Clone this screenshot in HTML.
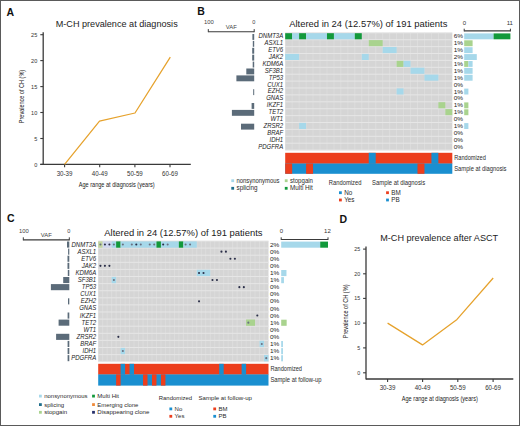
<!DOCTYPE html>
<html><head><meta charset="utf-8"><style>
html,body{margin:0;padding:0;background:#fff;}
svg{display:block;}
text{font-family:"Liberation Sans",sans-serif;}
</style></head><body>
<svg width="520" height="426" viewBox="0 0 520 426">
<rect x="0" y="0" width="520" height="426" fill="#fff"/>
<rect x="0.5" y="0.5" width="519" height="425" fill="none" stroke="#5a5a5a" stroke-width="1"/>
<text x="6.50" y="15.50" font-size="10.5" text-anchor="start" fill="#111" font-weight="bold">A</text>
<text x="55.70" y="27.00" font-size="9.1" text-anchor="start" fill="#222" textLength="122" lengthAdjust="spacingAndGlyphs">M-CH prevalence at diagnosis</text>
<line x1="43.20" y1="32.20" x2="43.20" y2="165.00" stroke="#3a3a3a" stroke-width="1.3"/>
<line x1="40.30" y1="34.70" x2="43.20" y2="34.70" stroke="#3a3a3a" stroke-width="1.1"/>
<text x="37.30" y="36.90" font-size="6.2" text-anchor="end" fill="#333" textLength="6.2" lengthAdjust="spacingAndGlyphs">25</text>
<line x1="40.30" y1="60.60" x2="43.20" y2="60.60" stroke="#3a3a3a" stroke-width="1.1"/>
<text x="37.30" y="62.80" font-size="6.2" text-anchor="end" fill="#333" textLength="6.2" lengthAdjust="spacingAndGlyphs">20</text>
<line x1="40.30" y1="86.60" x2="43.20" y2="86.60" stroke="#3a3a3a" stroke-width="1.1"/>
<text x="37.30" y="88.80" font-size="6.2" text-anchor="end" fill="#333" textLength="6.2" lengthAdjust="spacingAndGlyphs">15</text>
<line x1="40.30" y1="112.50" x2="43.20" y2="112.50" stroke="#3a3a3a" stroke-width="1.1"/>
<text x="37.30" y="114.70" font-size="6.2" text-anchor="end" fill="#333" textLength="6.2" lengthAdjust="spacingAndGlyphs">10</text>
<line x1="40.30" y1="138.50" x2="43.20" y2="138.50" stroke="#3a3a3a" stroke-width="1.1"/>
<text x="37.30" y="140.70" font-size="6.2" text-anchor="end" fill="#333" textLength="3.1" lengthAdjust="spacingAndGlyphs">5</text>
<line x1="40.30" y1="164.40" x2="43.20" y2="164.40" stroke="#3a3a3a" stroke-width="1.1"/>
<text x="37.30" y="166.60" font-size="6.2" text-anchor="end" fill="#333" textLength="3.1" lengthAdjust="spacingAndGlyphs">0</text>
<line x1="40.30" y1="164.40" x2="190.80" y2="164.40" stroke="#3a3a3a" stroke-width="1.3"/>
<line x1="64.60" y1="164.40" x2="64.60" y2="167.30" stroke="#3a3a3a" stroke-width="1.1"/>
<text x="64.60" y="175.90" font-size="6.3" text-anchor="middle" fill="#333" textLength="15.8" lengthAdjust="spacingAndGlyphs">30-39</text>
<line x1="99.70" y1="164.40" x2="99.70" y2="167.30" stroke="#3a3a3a" stroke-width="1.1"/>
<text x="99.70" y="175.90" font-size="6.3" text-anchor="middle" fill="#333" textLength="15.8" lengthAdjust="spacingAndGlyphs">40-49</text>
<line x1="134.90" y1="164.40" x2="134.90" y2="167.30" stroke="#3a3a3a" stroke-width="1.1"/>
<text x="134.90" y="175.90" font-size="6.3" text-anchor="middle" fill="#333" textLength="15.8" lengthAdjust="spacingAndGlyphs">50-59</text>
<line x1="170.00" y1="164.40" x2="170.00" y2="167.30" stroke="#3a3a3a" stroke-width="1.1"/>
<text x="170.00" y="175.90" font-size="6.3" text-anchor="middle" fill="#333" textLength="15.8" lengthAdjust="spacingAndGlyphs">60-69</text>
<polyline points="64.60,164.40 99.50,121.10 135.00,113.00 170.30,57.10" fill="none" stroke="#E6A22C" stroke-width="1.25" stroke-linejoin="round"/>
<text x="78.70" y="187.10" font-size="7.8" text-anchor="start" fill="#222" textLength="76" lengthAdjust="spacingAndGlyphs">Age range at diagnosis (years)</text>
<text transform="translate(23.90,96.50) rotate(-90)" x="0" y="0" font-size="7.8" text-anchor="middle" fill="#222" textLength="53.3" lengthAdjust="spacingAndGlyphs">Prevalence of CH (%)</text>
<text x="339.50" y="222.60" font-size="10.5" text-anchor="start" fill="#111" font-weight="bold">D</text>
<text x="380.20" y="240.50" font-size="9.1" text-anchor="start" fill="#222" textLength="118" lengthAdjust="spacingAndGlyphs">M-CH prevalence after ASCT</text>
<line x1="366.00" y1="246.50" x2="366.00" y2="379.60" stroke="#3a3a3a" stroke-width="1.3"/>
<line x1="363.10" y1="249.10" x2="366.00" y2="249.10" stroke="#3a3a3a" stroke-width="1.1"/>
<text x="360.10" y="251.19" font-size="5.9" text-anchor="end" fill="#333" textLength="5.9" lengthAdjust="spacingAndGlyphs">25</text>
<line x1="363.10" y1="273.80" x2="366.00" y2="273.80" stroke="#3a3a3a" stroke-width="1.1"/>
<text x="360.10" y="275.89" font-size="5.9" text-anchor="end" fill="#333" textLength="5.9" lengthAdjust="spacingAndGlyphs">20</text>
<line x1="363.10" y1="298.40" x2="366.00" y2="298.40" stroke="#3a3a3a" stroke-width="1.1"/>
<text x="360.10" y="300.49" font-size="5.9" text-anchor="end" fill="#333" textLength="5.9" lengthAdjust="spacingAndGlyphs">15</text>
<line x1="363.10" y1="323.10" x2="366.00" y2="323.10" stroke="#3a3a3a" stroke-width="1.1"/>
<text x="360.10" y="325.19" font-size="5.9" text-anchor="end" fill="#333" textLength="5.9" lengthAdjust="spacingAndGlyphs">10</text>
<line x1="363.10" y1="347.90" x2="366.00" y2="347.90" stroke="#3a3a3a" stroke-width="1.1"/>
<text x="360.10" y="349.99" font-size="5.9" text-anchor="end" fill="#333" textLength="2.95" lengthAdjust="spacingAndGlyphs">5</text>
<line x1="363.10" y1="372.80" x2="366.00" y2="372.80" stroke="#3a3a3a" stroke-width="1.1"/>
<text x="360.10" y="374.89" font-size="5.9" text-anchor="end" fill="#333" textLength="2.95" lengthAdjust="spacingAndGlyphs">0</text>
<line x1="366.00" y1="379.00" x2="513.30" y2="379.00" stroke="#3a3a3a" stroke-width="1.3"/>
<line x1="387.60" y1="379.00" x2="387.60" y2="381.90" stroke="#3a3a3a" stroke-width="1.1"/>
<text x="387.60" y="389.80" font-size="6.3" text-anchor="middle" fill="#333" textLength="15.8" lengthAdjust="spacingAndGlyphs">30-39</text>
<line x1="422.60" y1="379.00" x2="422.60" y2="381.90" stroke="#3a3a3a" stroke-width="1.1"/>
<text x="422.60" y="389.80" font-size="6.3" text-anchor="middle" fill="#333" textLength="15.8" lengthAdjust="spacingAndGlyphs">40-49</text>
<line x1="457.80" y1="379.00" x2="457.80" y2="381.90" stroke="#3a3a3a" stroke-width="1.1"/>
<text x="457.80" y="389.80" font-size="6.3" text-anchor="middle" fill="#333" textLength="15.8" lengthAdjust="spacingAndGlyphs">50-59</text>
<line x1="493.10" y1="379.00" x2="493.10" y2="381.90" stroke="#3a3a3a" stroke-width="1.1"/>
<text x="493.10" y="389.80" font-size="6.3" text-anchor="middle" fill="#333" textLength="15.8" lengthAdjust="spacingAndGlyphs">60-69</text>
<polyline points="387.60,323.10 422.50,344.90 457.00,319.40 493.20,278.00" fill="none" stroke="#E6A22C" stroke-width="1.25" stroke-linejoin="round"/>
<text x="401.80" y="400.90" font-size="7.8" text-anchor="start" fill="#222" textLength="76" lengthAdjust="spacingAndGlyphs">Age range at diagnosis (years)</text>
<text transform="translate(347.90,311.40) rotate(-90)" x="0" y="0" font-size="7.8" text-anchor="middle" fill="#222" textLength="53.8" lengthAdjust="spacingAndGlyphs">Prevalence of CH (%)</text>
<text x="197.30" y="15.40" font-size="10.5" text-anchor="start" fill="#111" font-weight="bold">B</text>
<text x="289.20" y="27.20" font-size="9.3" text-anchor="start" fill="#222" textLength="158.2" lengthAdjust="spacingAndGlyphs">Altered in 24 (12.57%) of 191 patients</text>
<line x1="208.30" y1="31.70" x2="254.20" y2="31.70" stroke="#3a3a3a" stroke-width="1.1"/>
<line x1="208.30" y1="29.10" x2="208.30" y2="32.20" stroke="#3a3a3a" stroke-width="1.0"/>
<line x1="254.20" y1="29.10" x2="254.20" y2="32.20" stroke="#3a3a3a" stroke-width="1.0"/>
<text x="208.90" y="24.40" font-size="5.6" text-anchor="middle" fill="#444" textLength="9.8" lengthAdjust="spacingAndGlyphs">100</text>
<text x="253.80" y="24.40" font-size="5.6" text-anchor="middle" fill="#444">0</text>
<text x="231.25" y="28.50" font-size="5.9" text-anchor="middle" fill="#444" textLength="11" lengthAdjust="spacingAndGlyphs">VAF</text>
<rect x="285.20" y="32.80" width="167.10" height="117.30" fill="#d5d5d5"/>
<line x1="292.16" y1="32.80" x2="292.16" y2="150.10" stroke="#e0e0e0" stroke-width="0.7"/>
<line x1="299.12" y1="32.80" x2="299.12" y2="150.10" stroke="#e0e0e0" stroke-width="0.7"/>
<line x1="306.09" y1="32.80" x2="306.09" y2="150.10" stroke="#e0e0e0" stroke-width="0.7"/>
<line x1="313.05" y1="32.80" x2="313.05" y2="150.10" stroke="#e0e0e0" stroke-width="0.7"/>
<line x1="320.01" y1="32.80" x2="320.01" y2="150.10" stroke="#e0e0e0" stroke-width="0.7"/>
<line x1="326.98" y1="32.80" x2="326.98" y2="150.10" stroke="#e0e0e0" stroke-width="0.7"/>
<line x1="333.94" y1="32.80" x2="333.94" y2="150.10" stroke="#e0e0e0" stroke-width="0.7"/>
<line x1="340.90" y1="32.80" x2="340.90" y2="150.10" stroke="#e0e0e0" stroke-width="0.7"/>
<line x1="347.86" y1="32.80" x2="347.86" y2="150.10" stroke="#e0e0e0" stroke-width="0.7"/>
<line x1="354.82" y1="32.80" x2="354.82" y2="150.10" stroke="#e0e0e0" stroke-width="0.7"/>
<line x1="361.79" y1="32.80" x2="361.79" y2="150.10" stroke="#e0e0e0" stroke-width="0.7"/>
<line x1="368.75" y1="32.80" x2="368.75" y2="150.10" stroke="#e0e0e0" stroke-width="0.7"/>
<line x1="375.71" y1="32.80" x2="375.71" y2="150.10" stroke="#e0e0e0" stroke-width="0.7"/>
<line x1="382.68" y1="32.80" x2="382.68" y2="150.10" stroke="#e0e0e0" stroke-width="0.7"/>
<line x1="389.64" y1="32.80" x2="389.64" y2="150.10" stroke="#e0e0e0" stroke-width="0.7"/>
<line x1="396.60" y1="32.80" x2="396.60" y2="150.10" stroke="#e0e0e0" stroke-width="0.7"/>
<line x1="403.56" y1="32.80" x2="403.56" y2="150.10" stroke="#e0e0e0" stroke-width="0.7"/>
<line x1="410.52" y1="32.80" x2="410.52" y2="150.10" stroke="#e0e0e0" stroke-width="0.7"/>
<line x1="417.49" y1="32.80" x2="417.49" y2="150.10" stroke="#e0e0e0" stroke-width="0.7"/>
<line x1="424.45" y1="32.80" x2="424.45" y2="150.10" stroke="#e0e0e0" stroke-width="0.7"/>
<line x1="431.41" y1="32.80" x2="431.41" y2="150.10" stroke="#e0e0e0" stroke-width="0.7"/>
<line x1="438.38" y1="32.80" x2="438.38" y2="150.10" stroke="#e0e0e0" stroke-width="0.7"/>
<line x1="445.34" y1="32.80" x2="445.34" y2="150.10" stroke="#e0e0e0" stroke-width="0.7"/>
<line x1="285.20" y1="32.80" x2="452.30" y2="32.80" stroke="#e6e6e6" stroke-width="1.0"/>
<line x1="285.20" y1="39.70" x2="452.30" y2="39.70" stroke="#e6e6e6" stroke-width="1.0"/>
<line x1="285.20" y1="46.60" x2="452.30" y2="46.60" stroke="#e6e6e6" stroke-width="1.0"/>
<line x1="285.20" y1="53.50" x2="452.30" y2="53.50" stroke="#e6e6e6" stroke-width="1.0"/>
<line x1="285.20" y1="60.40" x2="452.30" y2="60.40" stroke="#e6e6e6" stroke-width="1.0"/>
<line x1="285.20" y1="67.30" x2="452.30" y2="67.30" stroke="#e6e6e6" stroke-width="1.0"/>
<line x1="285.20" y1="74.20" x2="452.30" y2="74.20" stroke="#e6e6e6" stroke-width="1.0"/>
<line x1="285.20" y1="81.10" x2="452.30" y2="81.10" stroke="#e6e6e6" stroke-width="1.0"/>
<line x1="285.20" y1="88.00" x2="452.30" y2="88.00" stroke="#e6e6e6" stroke-width="1.0"/>
<line x1="285.20" y1="94.90" x2="452.30" y2="94.90" stroke="#e6e6e6" stroke-width="1.0"/>
<line x1="285.20" y1="101.80" x2="452.30" y2="101.80" stroke="#e6e6e6" stroke-width="1.0"/>
<line x1="285.20" y1="108.70" x2="452.30" y2="108.70" stroke="#e6e6e6" stroke-width="1.0"/>
<line x1="285.20" y1="115.60" x2="452.30" y2="115.60" stroke="#e6e6e6" stroke-width="1.0"/>
<line x1="285.20" y1="122.50" x2="452.30" y2="122.50" stroke="#e6e6e6" stroke-width="1.0"/>
<line x1="285.20" y1="129.40" x2="452.30" y2="129.40" stroke="#e6e6e6" stroke-width="1.0"/>
<line x1="285.20" y1="136.30" x2="452.30" y2="136.30" stroke="#e6e6e6" stroke-width="1.0"/>
<line x1="285.20" y1="143.20" x2="452.30" y2="143.20" stroke="#e6e6e6" stroke-width="1.0"/>
<line x1="285.20" y1="150.10" x2="452.30" y2="150.10" stroke="#e6e6e6" stroke-width="1.0"/>
<rect x="285.20" y="33.20" width="6.96" height="6.10" fill="#12993b"/>
<rect x="292.16" y="33.20" width="6.96" height="6.10" fill="#a6d8ea"/>
<rect x="299.12" y="33.20" width="6.96" height="6.10" fill="#12993b"/>
<rect x="306.09" y="33.20" width="20.89" height="6.10" fill="#a6d8ea"/>
<rect x="326.98" y="33.20" width="6.96" height="6.10" fill="#12993b"/>
<rect x="333.94" y="33.20" width="20.89" height="6.10" fill="#a6d8ea"/>
<rect x="354.82" y="33.20" width="6.96" height="6.10" fill="#12993b"/>
<rect x="368.75" y="40.10" width="13.93" height="6.10" fill="#a9d38e"/>
<rect x="382.68" y="47.00" width="13.93" height="6.10" fill="#a6d8ea"/>
<rect x="285.20" y="53.90" width="13.93" height="6.10" fill="#a6d8ea"/>
<rect x="361.79" y="53.90" width="6.96" height="6.10" fill="#a6d8ea"/>
<rect x="396.60" y="60.80" width="6.96" height="6.10" fill="#a9d38e"/>
<rect x="403.56" y="60.80" width="6.96" height="6.10" fill="#a6d8ea"/>
<rect x="410.52" y="67.70" width="13.93" height="6.10" fill="#a6d8ea"/>
<rect x="424.45" y="74.60" width="13.93" height="6.10" fill="#a6d8ea"/>
<rect x="396.60" y="88.40" width="6.96" height="6.10" fill="#a6d8ea"/>
<rect x="438.38" y="102.20" width="6.96" height="6.10" fill="#a9d38e"/>
<rect x="445.34" y="109.10" width="6.96" height="6.10" fill="#a9d38e"/>
<rect x="299.12" y="122.90" width="6.96" height="6.10" fill="#a6d8ea"/>
<text x="283.20" y="38.25" font-size="6.7" text-anchor="end" fill="#222" font-style="italic" textLength="24.67" lengthAdjust="spacingAndGlyphs">DNMT3A</text>
<text x="283.20" y="45.15" font-size="6.7" text-anchor="end" fill="#222" font-style="italic" textLength="18.68" lengthAdjust="spacingAndGlyphs">ASXL1</text>
<text x="283.20" y="52.05" font-size="6.7" text-anchor="end" fill="#222" font-style="italic" textLength="15.01" lengthAdjust="spacingAndGlyphs">ETV6</text>
<text x="283.20" y="58.95" font-size="6.7" text-anchor="end" fill="#222" font-style="italic" textLength="14.34" lengthAdjust="spacingAndGlyphs">JAK2</text>
<text x="283.20" y="65.85" font-size="6.7" text-anchor="end" fill="#222" font-style="italic" textLength="20.67" lengthAdjust="spacingAndGlyphs">KDM6A</text>
<text x="283.20" y="72.75" font-size="6.7" text-anchor="end" fill="#222" font-style="italic" textLength="18.34" lengthAdjust="spacingAndGlyphs">SF3B1</text>
<text x="283.20" y="79.65" font-size="6.7" text-anchor="end" fill="#222" font-style="italic" textLength="14.34" lengthAdjust="spacingAndGlyphs">TP53</text>
<text x="283.20" y="86.55" font-size="6.7" text-anchor="end" fill="#222" font-style="italic" textLength="16.0" lengthAdjust="spacingAndGlyphs">CUX1</text>
<text x="283.20" y="93.45" font-size="6.7" text-anchor="end" fill="#222" font-style="italic" textLength="15.34" lengthAdjust="spacingAndGlyphs">EZH2</text>
<text x="283.20" y="100.35" font-size="6.7" text-anchor="end" fill="#222" font-style="italic" textLength="17.0" lengthAdjust="spacingAndGlyphs">GNAS</text>
<text x="283.20" y="107.25" font-size="6.7" text-anchor="end" fill="#222" font-style="italic" textLength="16.34" lengthAdjust="spacingAndGlyphs">IKZF1</text>
<text x="283.20" y="114.15" font-size="6.7" text-anchor="end" fill="#222" font-style="italic" textLength="14.67" lengthAdjust="spacingAndGlyphs">TET2</text>
<text x="283.20" y="121.05" font-size="6.7" text-anchor="end" fill="#222" font-style="italic" textLength="12.67" lengthAdjust="spacingAndGlyphs">WT1</text>
<text x="283.20" y="127.95" font-size="6.7" text-anchor="end" fill="#222" font-style="italic" textLength="19.67" lengthAdjust="spacingAndGlyphs">ZRSR2</text>
<text x="283.20" y="134.85" font-size="6.7" text-anchor="end" fill="#222" font-style="italic" textLength="16.0" lengthAdjust="spacingAndGlyphs">BRAF</text>
<text x="283.20" y="141.75" font-size="6.7" text-anchor="end" fill="#222" font-style="italic" textLength="13.67" lengthAdjust="spacingAndGlyphs">IDH1</text>
<text x="283.20" y="148.65" font-size="6.7" text-anchor="end" fill="#222" font-style="italic" textLength="25.0" lengthAdjust="spacingAndGlyphs">PDGFRA</text>
<rect x="252.40" y="34.00" width="1.80" height="5.90" fill="#5b6b79"/>
<rect x="252.80" y="40.90" width="1.40" height="5.90" fill="#5b6b79"/>
<rect x="252.20" y="47.80" width="2.00" height="5.90" fill="#5b6b79"/>
<rect x="252.20" y="54.70" width="2.00" height="5.90" fill="#5b6b79"/>
<rect x="252.70" y="61.60" width="1.50" height="5.90" fill="#5b6b79"/>
<rect x="246.30" y="68.50" width="7.90" height="5.90" fill="#5b6b79"/>
<rect x="236.40" y="75.40" width="17.80" height="5.90" fill="#5b6b79"/>
<rect x="253.20" y="89.20" width="1.00" height="5.90" fill="#5b6b79"/>
<rect x="251.60" y="103.00" width="2.60" height="5.90" fill="#5b6b79"/>
<rect x="231.90" y="109.90" width="22.30" height="5.90" fill="#5b6b79"/>
<rect x="241.00" y="123.70" width="13.20" height="5.90" fill="#5b6b79"/>
<text x="453.70" y="38.35" font-size="6.0" text-anchor="start" fill="#222" textLength="9.3" lengthAdjust="spacingAndGlyphs">6%</text>
<text x="453.70" y="45.25" font-size="6.0" text-anchor="start" fill="#222" textLength="9.3" lengthAdjust="spacingAndGlyphs">1%</text>
<text x="453.70" y="52.15" font-size="6.0" text-anchor="start" fill="#222" textLength="9.3" lengthAdjust="spacingAndGlyphs">1%</text>
<text x="453.70" y="59.05" font-size="6.0" text-anchor="start" fill="#222" textLength="9.3" lengthAdjust="spacingAndGlyphs">2%</text>
<text x="453.70" y="65.95" font-size="6.0" text-anchor="start" fill="#222" textLength="9.3" lengthAdjust="spacingAndGlyphs">1%</text>
<text x="453.70" y="72.85" font-size="6.0" text-anchor="start" fill="#222" textLength="9.3" lengthAdjust="spacingAndGlyphs">1%</text>
<text x="453.70" y="79.75" font-size="6.0" text-anchor="start" fill="#222" textLength="9.3" lengthAdjust="spacingAndGlyphs">1%</text>
<text x="453.70" y="86.65" font-size="6.0" text-anchor="start" fill="#222" textLength="9.3" lengthAdjust="spacingAndGlyphs">0%</text>
<text x="453.70" y="93.55" font-size="6.0" text-anchor="start" fill="#222" textLength="9.3" lengthAdjust="spacingAndGlyphs">1%</text>
<text x="453.70" y="100.45" font-size="6.0" text-anchor="start" fill="#222" textLength="9.3" lengthAdjust="spacingAndGlyphs">0%</text>
<text x="453.70" y="107.35" font-size="6.0" text-anchor="start" fill="#222" textLength="9.3" lengthAdjust="spacingAndGlyphs">1%</text>
<text x="453.70" y="114.25" font-size="6.0" text-anchor="start" fill="#222" textLength="9.3" lengthAdjust="spacingAndGlyphs">1%</text>
<text x="453.70" y="121.15" font-size="6.0" text-anchor="start" fill="#222" textLength="9.3" lengthAdjust="spacingAndGlyphs">0%</text>
<text x="453.70" y="128.05" font-size="6.0" text-anchor="start" fill="#222" textLength="9.3" lengthAdjust="spacingAndGlyphs">1%</text>
<text x="453.70" y="134.95" font-size="6.0" text-anchor="start" fill="#222" textLength="9.3" lengthAdjust="spacingAndGlyphs">0%</text>
<text x="453.70" y="141.85" font-size="6.0" text-anchor="start" fill="#222" textLength="9.3" lengthAdjust="spacingAndGlyphs">0%</text>
<text x="453.70" y="148.75" font-size="6.0" text-anchor="start" fill="#222" textLength="9.3" lengthAdjust="spacingAndGlyphs">0%</text>
<line x1="464.20" y1="30.90" x2="510.40" y2="30.90" stroke="#3a3a3a" stroke-width="1.1"/>
<line x1="464.20" y1="28.70" x2="464.20" y2="31.40" stroke="#3a3a3a" stroke-width="1.0"/>
<line x1="510.40" y1="28.70" x2="510.40" y2="31.40" stroke="#3a3a3a" stroke-width="1.0"/>
<text x="464.50" y="24.50" font-size="6.0" text-anchor="middle" fill="#333">0</text>
<text x="509.80" y="24.50" font-size="6.0" text-anchor="middle" fill="#333">11</text>
<rect x="464.20" y="33.40" width="29.40" height="5.90" fill="#a6d8ea"/>
<rect x="493.60" y="33.40" width="16.80" height="5.90" fill="#12993b"/>
<rect x="464.20" y="40.30" width="8.40" height="5.90" fill="#a9d38e"/>
<rect x="464.20" y="47.20" width="8.40" height="5.90" fill="#a6d8ea"/>
<rect x="464.20" y="54.10" width="12.60" height="5.90" fill="#a6d8ea"/>
<rect x="464.20" y="61.00" width="4.20" height="5.90" fill="#a9d38e"/>
<rect x="468.40" y="61.00" width="4.20" height="5.90" fill="#a6d8ea"/>
<rect x="464.20" y="67.90" width="8.40" height="5.90" fill="#a6d8ea"/>
<rect x="464.20" y="74.80" width="8.40" height="5.90" fill="#a6d8ea"/>
<rect x="464.20" y="88.60" width="4.20" height="5.90" fill="#a6d8ea"/>
<rect x="464.20" y="102.40" width="4.20" height="5.90" fill="#a9d38e"/>
<rect x="464.20" y="109.30" width="4.20" height="5.90" fill="#a9d38e"/>
<rect x="464.20" y="123.10" width="4.20" height="5.90" fill="#a6d8ea"/>
<rect x="285.20" y="152.80" width="167.10" height="11.00" fill="#ec3e1d"/>
<rect x="368.75" y="152.80" width="6.96" height="11.00" fill="#1a8fd0"/>
<rect x="431.41" y="152.80" width="6.96" height="11.00" fill="#1a8fd0"/>
<rect x="285.20" y="163.50" width="167.10" height="10.30" fill="#1a8fd0"/>
<rect x="285.20" y="163.50" width="6.96" height="10.30" fill="#ec3e1d"/>
<rect x="306.09" y="163.50" width="6.96" height="10.30" fill="#ec3e1d"/>
<rect x="417.49" y="163.50" width="6.96" height="10.30" fill="#ec3e1d"/>
<text x="454.20" y="160.25" font-size="6.3" text-anchor="start" fill="#2a2a2a" textLength="31.6" lengthAdjust="spacingAndGlyphs">Randomized</text>
<text x="454.20" y="170.75" font-size="6.3" text-anchor="start" fill="#2a2a2a" textLength="52.3" lengthAdjust="spacingAndGlyphs">Sample at diagnosis</text>
<text x="6.90" y="222.40" font-size="10.5" text-anchor="start" fill="#111" font-weight="bold">C</text>
<text x="104.30" y="235.70" font-size="9.3" text-anchor="start" fill="#222" textLength="158.2" lengthAdjust="spacingAndGlyphs">Altered in 24 (12.57%) of 191 patients</text>
<line x1="23.30" y1="239.90" x2="69.30" y2="239.90" stroke="#3a3a3a" stroke-width="1.1"/>
<line x1="23.30" y1="237.30" x2="23.30" y2="240.40" stroke="#3a3a3a" stroke-width="1.0"/>
<line x1="69.30" y1="237.30" x2="69.30" y2="240.40" stroke="#3a3a3a" stroke-width="1.0"/>
<text x="23.90" y="232.60" font-size="5.6" text-anchor="middle" fill="#444" textLength="9.8" lengthAdjust="spacingAndGlyphs">100</text>
<text x="68.90" y="232.60" font-size="5.6" text-anchor="middle" fill="#444">0</text>
<text x="46.30" y="236.70" font-size="5.9" text-anchor="middle" fill="#444" textLength="11" lengthAdjust="spacingAndGlyphs">VAF</text>
<rect x="98.20" y="241.00" width="170.30" height="120.70" fill="#d5d5d5"/>
<line x1="102.68" y1="241.00" x2="102.68" y2="361.70" stroke="#e0e0e0" stroke-width="0.7"/>
<line x1="107.16" y1="241.00" x2="107.16" y2="361.70" stroke="#e0e0e0" stroke-width="0.7"/>
<line x1="111.64" y1="241.00" x2="111.64" y2="361.70" stroke="#e0e0e0" stroke-width="0.7"/>
<line x1="116.13" y1="241.00" x2="116.13" y2="361.70" stroke="#e0e0e0" stroke-width="0.7"/>
<line x1="120.61" y1="241.00" x2="120.61" y2="361.70" stroke="#e0e0e0" stroke-width="0.7"/>
<line x1="125.09" y1="241.00" x2="125.09" y2="361.70" stroke="#e0e0e0" stroke-width="0.7"/>
<line x1="129.57" y1="241.00" x2="129.57" y2="361.70" stroke="#e0e0e0" stroke-width="0.7"/>
<line x1="134.05" y1="241.00" x2="134.05" y2="361.70" stroke="#e0e0e0" stroke-width="0.7"/>
<line x1="138.53" y1="241.00" x2="138.53" y2="361.70" stroke="#e0e0e0" stroke-width="0.7"/>
<line x1="143.02" y1="241.00" x2="143.02" y2="361.70" stroke="#e0e0e0" stroke-width="0.7"/>
<line x1="147.50" y1="241.00" x2="147.50" y2="361.70" stroke="#e0e0e0" stroke-width="0.7"/>
<line x1="151.98" y1="241.00" x2="151.98" y2="361.70" stroke="#e0e0e0" stroke-width="0.7"/>
<line x1="156.46" y1="241.00" x2="156.46" y2="361.70" stroke="#e0e0e0" stroke-width="0.7"/>
<line x1="160.94" y1="241.00" x2="160.94" y2="361.70" stroke="#e0e0e0" stroke-width="0.7"/>
<line x1="165.42" y1="241.00" x2="165.42" y2="361.70" stroke="#e0e0e0" stroke-width="0.7"/>
<line x1="169.91" y1="241.00" x2="169.91" y2="361.70" stroke="#e0e0e0" stroke-width="0.7"/>
<line x1="174.39" y1="241.00" x2="174.39" y2="361.70" stroke="#e0e0e0" stroke-width="0.7"/>
<line x1="178.87" y1="241.00" x2="178.87" y2="361.70" stroke="#e0e0e0" stroke-width="0.7"/>
<line x1="183.35" y1="241.00" x2="183.35" y2="361.70" stroke="#e0e0e0" stroke-width="0.7"/>
<line x1="187.83" y1="241.00" x2="187.83" y2="361.70" stroke="#e0e0e0" stroke-width="0.7"/>
<line x1="192.31" y1="241.00" x2="192.31" y2="361.70" stroke="#e0e0e0" stroke-width="0.7"/>
<line x1="196.79" y1="241.00" x2="196.79" y2="361.70" stroke="#e0e0e0" stroke-width="0.7"/>
<line x1="201.28" y1="241.00" x2="201.28" y2="361.70" stroke="#e0e0e0" stroke-width="0.7"/>
<line x1="205.76" y1="241.00" x2="205.76" y2="361.70" stroke="#e0e0e0" stroke-width="0.7"/>
<line x1="210.24" y1="241.00" x2="210.24" y2="361.70" stroke="#e0e0e0" stroke-width="0.7"/>
<line x1="214.72" y1="241.00" x2="214.72" y2="361.70" stroke="#e0e0e0" stroke-width="0.7"/>
<line x1="219.20" y1="241.00" x2="219.20" y2="361.70" stroke="#e0e0e0" stroke-width="0.7"/>
<line x1="223.68" y1="241.00" x2="223.68" y2="361.70" stroke="#e0e0e0" stroke-width="0.7"/>
<line x1="228.17" y1="241.00" x2="228.17" y2="361.70" stroke="#e0e0e0" stroke-width="0.7"/>
<line x1="232.65" y1="241.00" x2="232.65" y2="361.70" stroke="#e0e0e0" stroke-width="0.7"/>
<line x1="237.13" y1="241.00" x2="237.13" y2="361.70" stroke="#e0e0e0" stroke-width="0.7"/>
<line x1="241.61" y1="241.00" x2="241.61" y2="361.70" stroke="#e0e0e0" stroke-width="0.7"/>
<line x1="246.09" y1="241.00" x2="246.09" y2="361.70" stroke="#e0e0e0" stroke-width="0.7"/>
<line x1="250.57" y1="241.00" x2="250.57" y2="361.70" stroke="#e0e0e0" stroke-width="0.7"/>
<line x1="255.06" y1="241.00" x2="255.06" y2="361.70" stroke="#e0e0e0" stroke-width="0.7"/>
<line x1="259.54" y1="241.00" x2="259.54" y2="361.70" stroke="#e0e0e0" stroke-width="0.7"/>
<line x1="264.02" y1="241.00" x2="264.02" y2="361.70" stroke="#e0e0e0" stroke-width="0.7"/>
<line x1="98.20" y1="241.00" x2="268.50" y2="241.00" stroke="#e6e6e6" stroke-width="1.0"/>
<line x1="98.20" y1="248.10" x2="268.50" y2="248.10" stroke="#e6e6e6" stroke-width="1.0"/>
<line x1="98.20" y1="255.20" x2="268.50" y2="255.20" stroke="#e6e6e6" stroke-width="1.0"/>
<line x1="98.20" y1="262.30" x2="268.50" y2="262.30" stroke="#e6e6e6" stroke-width="1.0"/>
<line x1="98.20" y1="269.40" x2="268.50" y2="269.40" stroke="#e6e6e6" stroke-width="1.0"/>
<line x1="98.20" y1="276.50" x2="268.50" y2="276.50" stroke="#e6e6e6" stroke-width="1.0"/>
<line x1="98.20" y1="283.60" x2="268.50" y2="283.60" stroke="#e6e6e6" stroke-width="1.0"/>
<line x1="98.20" y1="290.70" x2="268.50" y2="290.70" stroke="#e6e6e6" stroke-width="1.0"/>
<line x1="98.20" y1="297.80" x2="268.50" y2="297.80" stroke="#e6e6e6" stroke-width="1.0"/>
<line x1="98.20" y1="304.90" x2="268.50" y2="304.90" stroke="#e6e6e6" stroke-width="1.0"/>
<line x1="98.20" y1="312.00" x2="268.50" y2="312.00" stroke="#e6e6e6" stroke-width="1.0"/>
<line x1="98.20" y1="319.10" x2="268.50" y2="319.10" stroke="#e6e6e6" stroke-width="1.0"/>
<line x1="98.20" y1="326.20" x2="268.50" y2="326.20" stroke="#e6e6e6" stroke-width="1.0"/>
<line x1="98.20" y1="333.30" x2="268.50" y2="333.30" stroke="#e6e6e6" stroke-width="1.0"/>
<line x1="98.20" y1="340.40" x2="268.50" y2="340.40" stroke="#e6e6e6" stroke-width="1.0"/>
<line x1="98.20" y1="347.50" x2="268.50" y2="347.50" stroke="#e6e6e6" stroke-width="1.0"/>
<line x1="98.20" y1="354.60" x2="268.50" y2="354.60" stroke="#e6e6e6" stroke-width="1.0"/>
<line x1="98.20" y1="361.70" x2="268.50" y2="361.70" stroke="#e6e6e6" stroke-width="1.0"/>
<rect x="98.20" y="241.40" width="4.48" height="6.30" fill="#c3d69e"/>
<rect x="102.68" y="241.40" width="8.96" height="6.30" fill="#cfd6ee"/>
<rect x="111.64" y="241.40" width="4.48" height="6.30" fill="#a6d8ea"/>
<rect x="116.13" y="241.40" width="4.48" height="6.30" fill="#12993b"/>
<rect x="120.61" y="241.40" width="35.85" height="6.30" fill="#a6d8ea"/>
<rect x="156.46" y="241.40" width="4.48" height="6.30" fill="#12993b"/>
<rect x="160.94" y="241.40" width="17.93" height="6.30" fill="#a6d8ea"/>
<rect x="178.87" y="241.40" width="4.48" height="6.30" fill="#12993b"/>
<rect x="183.35" y="241.40" width="13.44" height="6.30" fill="#a6d8ea"/>
<rect x="196.79" y="269.80" width="13.44" height="6.30" fill="#a6d8ea"/>
<rect x="111.64" y="276.90" width="4.48" height="6.30" fill="#a6d8ea"/>
<rect x="246.09" y="319.50" width="8.96" height="6.30" fill="#a9d38e"/>
<rect x="259.54" y="340.80" width="4.48" height="6.30" fill="#a6d8ea"/>
<rect x="120.61" y="347.90" width="4.48" height="6.30" fill="#a6d8ea"/>
<rect x="264.02" y="355.00" width="4.48" height="6.30" fill="#a6d8ea"/>
<circle cx="104.92" cy="244.55" r="1.05" fill="#2a2e48"/>
<circle cx="109.40" cy="244.55" r="1.05" fill="#2a2e48"/>
<circle cx="136.29" cy="244.55" r="1.05" fill="#2a2e48"/>
<circle cx="163.18" cy="244.55" r="1.05" fill="#2a2e48"/>
<circle cx="100.44" cy="244.55" r="1.05" fill="#6b7080"/>
<circle cx="113.89" cy="244.55" r="1.05" fill="#6b7080"/>
<circle cx="122.85" cy="244.55" r="1.05" fill="#6b7080"/>
<circle cx="131.81" cy="244.55" r="1.05" fill="#6b7080"/>
<circle cx="140.78" cy="244.55" r="1.05" fill="#6b7080"/>
<circle cx="149.74" cy="244.55" r="1.05" fill="#6b7080"/>
<circle cx="154.22" cy="244.55" r="1.05" fill="#6b7080"/>
<circle cx="167.66" cy="244.55" r="1.05" fill="#6b7080"/>
<circle cx="185.59" cy="244.55" r="1.05" fill="#6b7080"/>
<circle cx="190.07" cy="244.55" r="1.05" fill="#6b7080"/>
<circle cx="221.44" cy="251.65" r="1.05" fill="#2a2e48"/>
<circle cx="225.93" cy="251.65" r="1.05" fill="#2a2e48"/>
<circle cx="230.41" cy="258.75" r="1.05" fill="#2a2e48"/>
<circle cx="234.89" cy="258.75" r="1.05" fill="#2a2e48"/>
<circle cx="100.44" cy="265.85" r="1.05" fill="#2a2e48"/>
<circle cx="104.92" cy="265.85" r="1.05" fill="#2a2e48"/>
<circle cx="109.40" cy="265.85" r="1.05" fill="#2a2e48"/>
<circle cx="199.04" cy="272.95" r="1.05" fill="#2a2e48"/>
<circle cx="203.52" cy="272.95" r="1.05" fill="#2a2e48"/>
<circle cx="113.89" cy="280.05" r="1.05" fill="#6b7080"/>
<circle cx="212.48" cy="280.05" r="1.05" fill="#2a2e48"/>
<circle cx="216.96" cy="280.05" r="1.05" fill="#2a2e48"/>
<circle cx="239.37" cy="287.15" r="1.05" fill="#2a2e48"/>
<circle cx="243.85" cy="287.15" r="1.05" fill="#2a2e48"/>
<circle cx="199.04" cy="301.35" r="1.05" fill="#2a2e48"/>
<circle cx="257.30" cy="315.55" r="1.05" fill="#2a2e48"/>
<circle cx="248.33" cy="322.65" r="1.05" fill="#6b7080"/>
<circle cx="118.37" cy="336.85" r="1.05" fill="#2a2e48"/>
<circle cx="261.78" cy="343.95" r="1.05" fill="#6b7080"/>
<circle cx="122.85" cy="351.05" r="1.05" fill="#6b7080"/>
<circle cx="266.26" cy="358.15" r="1.05" fill="#6b7080"/>
<text x="96.20" y="246.55" font-size="6.7" text-anchor="end" fill="#222" font-style="italic" textLength="24.67" lengthAdjust="spacingAndGlyphs">DNMT3A</text>
<text x="96.20" y="253.65" font-size="6.7" text-anchor="end" fill="#222" font-style="italic" textLength="18.68" lengthAdjust="spacingAndGlyphs">ASXL1</text>
<text x="96.20" y="260.75" font-size="6.7" text-anchor="end" fill="#222" font-style="italic" textLength="15.01" lengthAdjust="spacingAndGlyphs">ETV6</text>
<text x="96.20" y="267.85" font-size="6.7" text-anchor="end" fill="#222" font-style="italic" textLength="14.34" lengthAdjust="spacingAndGlyphs">JAK2</text>
<text x="96.20" y="274.95" font-size="6.7" text-anchor="end" fill="#222" font-style="italic" textLength="20.67" lengthAdjust="spacingAndGlyphs">KDM6A</text>
<text x="96.20" y="282.05" font-size="6.7" text-anchor="end" fill="#222" font-style="italic" textLength="18.34" lengthAdjust="spacingAndGlyphs">SF3B1</text>
<text x="96.20" y="289.15" font-size="6.7" text-anchor="end" fill="#222" font-style="italic" textLength="14.34" lengthAdjust="spacingAndGlyphs">TP53</text>
<text x="96.20" y="296.25" font-size="6.7" text-anchor="end" fill="#222" font-style="italic" textLength="16.0" lengthAdjust="spacingAndGlyphs">CUX1</text>
<text x="96.20" y="303.35" font-size="6.7" text-anchor="end" fill="#222" font-style="italic" textLength="15.34" lengthAdjust="spacingAndGlyphs">EZH2</text>
<text x="96.20" y="310.45" font-size="6.7" text-anchor="end" fill="#222" font-style="italic" textLength="17.0" lengthAdjust="spacingAndGlyphs">GNAS</text>
<text x="96.20" y="317.55" font-size="6.7" text-anchor="end" fill="#222" font-style="italic" textLength="16.34" lengthAdjust="spacingAndGlyphs">IKZF1</text>
<text x="96.20" y="324.65" font-size="6.7" text-anchor="end" fill="#222" font-style="italic" textLength="14.67" lengthAdjust="spacingAndGlyphs">TET2</text>
<text x="96.20" y="331.75" font-size="6.7" text-anchor="end" fill="#222" font-style="italic" textLength="12.67" lengthAdjust="spacingAndGlyphs">WT1</text>
<text x="96.20" y="338.85" font-size="6.7" text-anchor="end" fill="#222" font-style="italic" textLength="19.67" lengthAdjust="spacingAndGlyphs">ZRSR2</text>
<text x="96.20" y="345.95" font-size="6.7" text-anchor="end" fill="#222" font-style="italic" textLength="16.0" lengthAdjust="spacingAndGlyphs">BRAF</text>
<text x="96.20" y="353.05" font-size="6.7" text-anchor="end" fill="#222" font-style="italic" textLength="13.67" lengthAdjust="spacingAndGlyphs">IDH1</text>
<text x="96.20" y="360.15" font-size="6.7" text-anchor="end" fill="#222" font-style="italic" textLength="25.0" lengthAdjust="spacingAndGlyphs">PDGFRA</text>
<rect x="67.00" y="241.50" width="2.30" height="6.10" fill="#5b6b79"/>
<rect x="68.10" y="248.60" width="1.20" height="6.10" fill="#5b6b79"/>
<rect x="67.50" y="255.70" width="1.80" height="6.10" fill="#5b6b79"/>
<rect x="67.50" y="262.80" width="1.80" height="6.10" fill="#5b6b79"/>
<rect x="67.80" y="269.90" width="1.50" height="6.10" fill="#5b6b79"/>
<rect x="63.20" y="277.00" width="6.10" height="6.10" fill="#5b6b79"/>
<rect x="50.90" y="284.10" width="18.40" height="6.10" fill="#5b6b79"/>
<rect x="68.00" y="298.30" width="1.30" height="6.10" fill="#5b6b79"/>
<rect x="67.60" y="312.50" width="1.70" height="6.10" fill="#5b6b79"/>
<rect x="58.60" y="319.60" width="10.70" height="6.10" fill="#5b6b79"/>
<rect x="56.10" y="333.80" width="13.20" height="6.10" fill="#5b6b79"/>
<rect x="67.60" y="340.90" width="1.70" height="6.10" fill="#5b6b79"/>
<rect x="67.60" y="348.00" width="1.70" height="6.10" fill="#5b6b79"/>
<rect x="67.60" y="355.10" width="1.70" height="6.10" fill="#5b6b79"/>
<text x="269.90" y="246.65" font-size="6.0" text-anchor="start" fill="#222" textLength="9.3" lengthAdjust="spacingAndGlyphs">2%</text>
<text x="269.90" y="253.75" font-size="6.0" text-anchor="start" fill="#222" textLength="9.3" lengthAdjust="spacingAndGlyphs">0%</text>
<text x="269.90" y="260.85" font-size="6.0" text-anchor="start" fill="#222" textLength="9.3" lengthAdjust="spacingAndGlyphs">0%</text>
<text x="269.90" y="267.95" font-size="6.0" text-anchor="start" fill="#222" textLength="9.3" lengthAdjust="spacingAndGlyphs">0%</text>
<text x="269.90" y="275.05" font-size="6.0" text-anchor="start" fill="#222" textLength="9.3" lengthAdjust="spacingAndGlyphs">1%</text>
<text x="269.90" y="282.15" font-size="6.0" text-anchor="start" fill="#222" textLength="9.3" lengthAdjust="spacingAndGlyphs">1%</text>
<text x="269.90" y="289.25" font-size="6.0" text-anchor="start" fill="#222" textLength="9.3" lengthAdjust="spacingAndGlyphs">0%</text>
<text x="269.90" y="296.35" font-size="6.0" text-anchor="start" fill="#222" textLength="9.3" lengthAdjust="spacingAndGlyphs">0%</text>
<text x="269.90" y="303.45" font-size="6.0" text-anchor="start" fill="#222" textLength="9.3" lengthAdjust="spacingAndGlyphs">0%</text>
<text x="269.90" y="310.55" font-size="6.0" text-anchor="start" fill="#222" textLength="9.3" lengthAdjust="spacingAndGlyphs">0%</text>
<text x="269.90" y="317.65" font-size="6.0" text-anchor="start" fill="#222" textLength="9.3" lengthAdjust="spacingAndGlyphs">0%</text>
<text x="269.90" y="324.75" font-size="6.0" text-anchor="start" fill="#222" textLength="9.3" lengthAdjust="spacingAndGlyphs">1%</text>
<text x="269.90" y="331.85" font-size="6.0" text-anchor="start" fill="#222" textLength="9.3" lengthAdjust="spacingAndGlyphs">0%</text>
<text x="269.90" y="338.95" font-size="6.0" text-anchor="start" fill="#222" textLength="9.3" lengthAdjust="spacingAndGlyphs">0%</text>
<text x="269.90" y="346.05" font-size="6.0" text-anchor="start" fill="#222" textLength="9.3" lengthAdjust="spacingAndGlyphs">1%</text>
<text x="269.90" y="353.15" font-size="6.0" text-anchor="start" fill="#222" textLength="9.3" lengthAdjust="spacingAndGlyphs">1%</text>
<text x="269.90" y="360.25" font-size="6.0" text-anchor="start" fill="#222" textLength="9.3" lengthAdjust="spacingAndGlyphs">1%</text>
<line x1="281.20" y1="239.50" x2="328.00" y2="239.50" stroke="#3a3a3a" stroke-width="1.1"/>
<line x1="281.20" y1="237.30" x2="281.20" y2="240.00" stroke="#3a3a3a" stroke-width="1.0"/>
<line x1="328.00" y1="237.30" x2="328.00" y2="240.00" stroke="#3a3a3a" stroke-width="1.0"/>
<text x="281.50" y="233.10" font-size="6.0" text-anchor="middle" fill="#333">0</text>
<text x="327.40" y="233.10" font-size="6.0" text-anchor="middle" fill="#333">12</text>
<rect x="281.20" y="241.60" width="39.00" height="6.10" fill="#a6d8ea"/>
<rect x="320.20" y="241.60" width="7.80" height="6.10" fill="#12993b"/>
<rect x="281.20" y="270.00" width="5.27" height="6.10" fill="#a6d8ea"/>
<rect x="281.20" y="277.10" width="2.73" height="6.10" fill="#a6d8ea"/>
<rect x="281.20" y="319.70" width="5.46" height="6.10" fill="#a9d38e"/>
<rect x="281.20" y="341.00" width="1.75" height="6.10" fill="#a6d8ea"/>
<rect x="281.20" y="348.10" width="1.75" height="6.10" fill="#a6d8ea"/>
<rect x="281.20" y="355.20" width="1.75" height="6.10" fill="#a6d8ea"/>
<rect x="98.20" y="363.80" width="170.30" height="10.90" fill="#ec3e1d"/>
<rect x="120.61" y="363.80" width="4.48" height="10.90" fill="#1a8fd0"/>
<rect x="129.57" y="363.80" width="4.48" height="10.90" fill="#1a8fd0"/>
<rect x="219.20" y="363.80" width="4.48" height="10.90" fill="#1a8fd0"/>
<rect x="241.61" y="363.80" width="4.48" height="10.90" fill="#1a8fd0"/>
<rect x="98.20" y="374.40" width="170.30" height="11.20" fill="#1a8fd0"/>
<rect x="116.13" y="374.40" width="4.48" height="11.20" fill="#ec3e1d"/>
<rect x="143.02" y="374.40" width="4.48" height="11.20" fill="#ec3e1d"/>
<rect x="151.98" y="374.40" width="4.48" height="11.20" fill="#ec3e1d"/>
<rect x="160.94" y="374.40" width="4.48" height="11.20" fill="#ec3e1d"/>
<text x="270.40" y="371.20" font-size="6.3" text-anchor="start" fill="#2a2a2a" textLength="31.6" lengthAdjust="spacingAndGlyphs">Randomized</text>
<text x="270.40" y="382.10" font-size="6.3" text-anchor="start" fill="#2a2a2a" textLength="51" lengthAdjust="spacingAndGlyphs">Sample at follow-up</text>
<rect x="231.30" y="179.30" width="2.80" height="2.80" fill="#a6d8ea"/>
<text x="236.50" y="182.80" font-size="6.3" text-anchor="start" fill="#2a2a2a" textLength="43" lengthAdjust="spacingAndGlyphs">nonsynonymous</text>
<rect x="231.30" y="186.90" width="2.80" height="2.80" fill="#1f6e8c"/>
<text x="236.50" y="190.40" font-size="6.3" text-anchor="start" fill="#2a2a2a">splicing</text>
<rect x="284.80" y="179.30" width="2.80" height="2.80" fill="#a9d38e"/>
<text x="290.00" y="182.80" font-size="6.3" text-anchor="start" fill="#2a2a2a" textLength="23" lengthAdjust="spacingAndGlyphs">stopgain</text>
<rect x="284.80" y="186.90" width="2.80" height="2.80" fill="#12993b"/>
<text x="290.00" y="190.40" font-size="6.3" text-anchor="start" fill="#2a2a2a">Multi Hit</text>
<text x="328.80" y="184.70" font-size="6.3" text-anchor="start" fill="#2a2a2a" textLength="32.7" lengthAdjust="spacingAndGlyphs">Randomized</text>
<text x="372.10" y="184.70" font-size="6.3" text-anchor="start" fill="#2a2a2a" textLength="53" lengthAdjust="spacingAndGlyphs">Sample at diagnosis</text>
<rect x="339.00" y="191.30" width="2.80" height="2.80" fill="#1a8fd0"/>
<text x="344.20" y="194.80" font-size="6.3" text-anchor="start" fill="#2a2a2a">No</text>
<rect x="339.00" y="198.60" width="2.80" height="2.80" fill="#ec3e1d"/>
<text x="344.20" y="202.10" font-size="6.3" text-anchor="start" fill="#2a2a2a">Yes</text>
<rect x="386.10" y="191.30" width="2.80" height="2.80" fill="#ec3e1d"/>
<text x="391.30" y="194.80" font-size="6.3" text-anchor="start" fill="#2a2a2a">BM</text>
<rect x="386.10" y="198.60" width="2.80" height="2.80" fill="#1a8fd0"/>
<text x="391.30" y="202.10" font-size="6.3" text-anchor="start" fill="#2a2a2a">PB</text>
<rect x="39.00" y="394.70" width="2.80" height="2.80" fill="#a6d8ea"/>
<text x="44.20" y="398.20" font-size="6.0" text-anchor="start" fill="#2a2a2a" textLength="43.4" lengthAdjust="spacingAndGlyphs">nonsynonymous</text>
<rect x="39.00" y="403.20" width="2.80" height="2.80" fill="#1f6e8c"/>
<text x="44.20" y="406.70" font-size="6.0" text-anchor="start" fill="#2a2a2a">splicing</text>
<rect x="39.00" y="410.90" width="2.80" height="2.80" fill="#a9d38e"/>
<text x="44.20" y="414.40" font-size="6.0" text-anchor="start" fill="#2a2a2a" textLength="23" lengthAdjust="spacingAndGlyphs">stopgain</text>
<rect x="92.10" y="394.70" width="2.80" height="2.80" fill="#12993b"/>
<text x="97.30" y="398.20" font-size="6.0" text-anchor="start" fill="#2a2a2a">Multi Hit</text>
<rect x="92.10" y="403.20" width="2.80" height="2.80" fill="#ef8a3a"/>
<text x="97.30" y="406.70" font-size="6.0" text-anchor="start" fill="#2a2a2a" textLength="41" lengthAdjust="spacingAndGlyphs">Emerging clone</text>
<rect x="92.10" y="410.90" width="2.80" height="2.80" fill="#27306b"/>
<text x="97.30" y="414.40" font-size="6.0" text-anchor="start" fill="#2a2a2a" textLength="52" lengthAdjust="spacingAndGlyphs">Disappearing clone</text>
<text x="158.80" y="399.90" font-size="6.1" text-anchor="start" fill="#2a2a2a" textLength="33.2" lengthAdjust="spacingAndGlyphs">Randomized</text>
<text x="198.50" y="399.90" font-size="6.1" text-anchor="start" fill="#2a2a2a" textLength="53.5" lengthAdjust="spacingAndGlyphs">Sample at follow-up</text>
<rect x="169.40" y="407.50" width="2.80" height="2.80" fill="#1a8fd0"/>
<text x="174.60" y="411.00" font-size="6.0" text-anchor="start" fill="#2a2a2a">No</text>
<rect x="169.40" y="414.90" width="2.80" height="2.80" fill="#ec3e1d"/>
<text x="174.60" y="418.40" font-size="6.0" text-anchor="start" fill="#2a2a2a">Yes</text>
<rect x="213.30" y="407.50" width="2.80" height="2.80" fill="#ec3e1d"/>
<text x="218.50" y="411.00" font-size="6.0" text-anchor="start" fill="#2a2a2a">BM</text>
<rect x="213.30" y="414.90" width="2.80" height="2.80" fill="#1a8fd0"/>
<text x="218.50" y="418.40" font-size="6.0" text-anchor="start" fill="#2a2a2a">PB</text>
</svg>
</body></html>
